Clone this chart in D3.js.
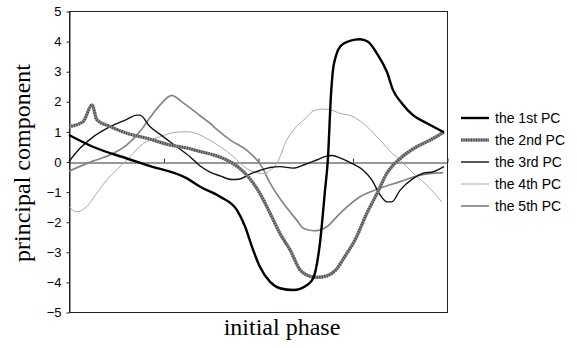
<!DOCTYPE html>
<html>
<head>
<meta charset="utf-8">
<script src="https://cdn.jsdelivr.net/npm/d3@7"></script>
<style>
    body { margin: 0; background: #fff; }
    svg { display: block; }
    .tick text { font-family: "Liberation Sans", Arial, sans-serif; font-size: 13px; fill: #000; }
    .axisTitle { font-family: "Liberation Serif", "Times New Roman", serif; font-size: 24px; fill: #000; }
    .legendText { font-family: "Liberation Sans", Arial, sans-serif; font-size: 14px; fill: #000; }
</style>
</head>
<body>
<script>
(function(){

    //series: [initial phase (0-100), principal component value]
    var pc1 = [[0,0.88],[6.3,0.49],[15.3,0.1],[20.6,-0.12],[31.2,-0.56],[34.7,-0.84],[40,-1.17],[44.4,-1.61],
        [46.6,-2.17],[48.4,-2.83],[50.5,-3.5],[53.2,-4.0],[55.8,-4.21],[59.3,-4.27],[63,-4.1],[64.6,-3.88],
        [66.4,-2.7],[67.7,-1.0],[68.5,0.1],[69.3,2.2],[69.8,3.0],[70.6,3.5],[71.7,3.81],[74.3,4.01],[77,4.06],
        [79.1,3.98],[81.7,3.54],[84.1,2.98],[85.7,2.38],[88.1,1.93],[91,1.54],[94.7,1.27],[99.2,0.97]];

    var pc2 = [[0,1.16],[3.7,1.32],[6.1,1.88],[7.4,1.38],[10.9,1.16],[15.3,0.94],[20.6,0.77],[26.7,0.55],
        [31.5,0.44],[34.7,0.33],[38.2,0.22],[41.7,0.05],[45.2,-0.23],[47,-0.45],[50.5,-1.06],[53.2,-1.72],
        [55.8,-2.39],[58.5,-2.94],[61.1,-3.6],[62.9,-3.77],[65.5,-3.85],[68.2,-3.8],[70.6,-3.6],[73,-3.15],
        [75.7,-2.6],[78.8,-1.72],[81.5,-1.06],[84.1,-0.39],[87.6,0.1],[92,0.49],[95.5,0.71],[99.2,0.98]];

    var pc3 = [[0,0],[2.9,0.44],[6.4,0.82],[10.9,1.16],[15.3,1.4],[17.9,1.54],[18.8,1.54],[21.4,1.16],
        [25,0.82],[28.5,0.49],[32,0.16],[34.7,-0.15],[37.3,-0.35],[40,-0.48],[43.1,-0.6],[45.2,-0.58],
        [47.9,-0.42],[50.5,-0.3],[53.2,-0.2],[55.8,-0.17],[59.3,-0.22],[62.4,-0.1],[65.5,0.05],[67.7,0.16],
        [69.8,0.2],[71.7,0.12],[74.3,-0.03],[77.9,-0.3],[80.1,-0.61],[82.3,-1.11],[84.1,-1.34],[85.4,-1.34],
        [87.6,-0.95],[91.1,-0.56],[93.7,-0.39],[96.4,-0.34],[99.2,-0.17]];

    var pc4 = [[0,-1.5],[2,-1.67],[4.7,-1.5],[7.3,-1.06],[10,-0.61],[12.6,-0.28],[15.3,0.05],[19.7,0.6],
        [24.1,0.82],[27.6,0.96],[31.1,0.99],[32.9,0.96],[36.4,0.77],[40,0.49],[43.5,0.16],[47,-0.23],
        [49.7,-0.37],[51.4,-0.4],[53.2,-0.3],[55,-0.06],[57.6,0.71],[60.2,1.16],[62.7,1.45],[64.6,1.68],
        [67,1.74],[69,1.72],[71.7,1.6],[75.2,1.49],[78.8,1.16],[82.3,0.71],[85.7,0.25],[87.6,0.05],
        [89.3,-0.17],[91.1,-0.39],[95.5,-0.89],[98.6,-1.34]];

    var pc5 = [[0,-0.32],[6.5,0.02],[10.9,0.22],[15.3,0.55],[18.8,1.0],[21.4,1.45],[24.1,1.88],[27.2,2.2],
        [28.5,2.12],[30.2,1.95],[32.9,1.7],[34.7,1.52],[37.3,1.27],[39.1,1.07],[42.6,0.72],[47,0.38],
        [49.7,0.05],[51,-0.17],[53.2,-0.72],[56.7,-1.39],[60.2,-1.94],[62,-2.22],[64.6,-2.3],[66.4,-2.28],
        [68.2,-2.17],[71.7,-1.72],[77,-1.17],[82.3,-0.89],[87.6,-0.67],[92.9,-0.45],[99,-0.37]];

    var seriesNames = ["the 1st PC", "the 2nd PC", "the 3rd PC", "the 4th PC", "the 5th PC"];
    var yTicks = [-5, -4, -3, -2, -1, 0, 1, 2, 3, 4, 5];
    var xTicks = [0, 25, 50, 75, 100];

    //line styles per series
    var styles = [
        {color: "#000", width: 2.4},
        {color: "#8a8a8a", width: 3.2, dash: "#4a4a4a"},
        {color: "#111", width: 1.4},
        {color: "#a8a8a8", width: 1},
        {color: "#858585", width: 1.7}
    ];

    var width = 577, height = 348;
    var left = 69, right = 447, top = 11, bottom = 312;

    var svg = d3.select("body")
        .append("svg")
        .attr("width", width)
        .attr("height", height);

    var x = d3.scaleLinear().domain([0, 100]).range([left, right]);
    var y = d3.scaleLinear().domain([-5, 5]).range([bottom, top]);

    //plot frame
    svg.append("rect")
        .attr("x", left + 0.5)
        .attr("y", top + 0.5)
        .attr("width", right - left)
        .attr("height", bottom - top)
        .attr("fill", "none")
        .attr("stroke", "#222")
        .attr("stroke-width", 1);

    //vertical axis
    var yAxis = svg.append("g")
        .attr("transform", "translate(" + (left + 0.5) + ",0.5)")
        .call(d3.axisLeft(y).tickValues(yTicks).tickSize(3).tickSizeOuter(0).tickPadding(5));
    yAxis.select(".domain").attr("stroke", "#222");
    yAxis.selectAll(".tick line").attr("stroke", "#222");

    //zero line with category ticks
    var xAxis = svg.append("g")
        .attr("transform", "translate(0.5," + (Math.round(y(0)) + 0.5) + ")")
        .call(d3.axisBottom(x).tickValues(xTicks).tickSize(-4).tickSizeOuter(0).tickFormat(""));
    xAxis.select(".domain").attr("stroke", "#333");
    xAxis.selectAll(".tick line").attr("stroke", "#333");

    var line = d3.line()
        .x(function(d){ return x(d[0]); })
        .y(function(d){ return y(d[1]); })
        .curve(d3.curveMonotoneX);

    var data = [pc1, pc2, pc3, pc4, pc5];
    var plot = svg.append("g");

    //draw back to front so the 1st PC ends up on top
    [4, 3, 2, 1, 0].forEach(function(i){
        var s = styles[i];
        plot.append("path")
            .datum(data[i])
            .attr("d", line)
            .attr("fill", "none")
            .attr("stroke", s.color)
            .attr("stroke-width", s.width)
            .attr("stroke-linejoin", "round");
        if (s.dash){
            plot.append("path")
                .datum(data[i])
                .attr("d", line)
                .attr("fill", "none")
                .attr("stroke", s.dash)
                .attr("stroke-width", s.width)
                .attr("stroke-dasharray", "1 1.5");
        }
    });

    //axis titles
    svg.append("text")
        .attr("class", "axisTitle")
        .attr("x", 282)
        .attr("y", 335)
        .attr("text-anchor", "middle")
        .text("initial phase");

    svg.append("text")
        .attr("class", "axisTitle")
        .attr("transform", "translate(30," + 163 + ") rotate(-90)")
        .attr("text-anchor", "middle")
        .text("principal component");

    //legend
    var legend = svg.append("g").attr("transform", "translate(461,118)");
    seriesNames.forEach(function(name, i){
        var s = styles[i];
        var row = legend.append("g").attr("transform", "translate(0," + (i * 22) + ")");
        row.append("line")
            .attr("x1", 0).attr("x2", 28)
            .attr("stroke", s.color)
            .attr("stroke-width", s.width);
        if (s.dash){
            row.append("line")
                .attr("x1", 0).attr("x2", 28)
                .attr("stroke", s.dash)
                .attr("stroke-width", s.width)
                .attr("stroke-dasharray", "1 1.5");
        }
        row.append("text")
            .attr("class", "legendText")
            .attr("x", 34)
            .attr("y", 5)
            .text(name);
    });

})();
</script>
</body>
</html>
